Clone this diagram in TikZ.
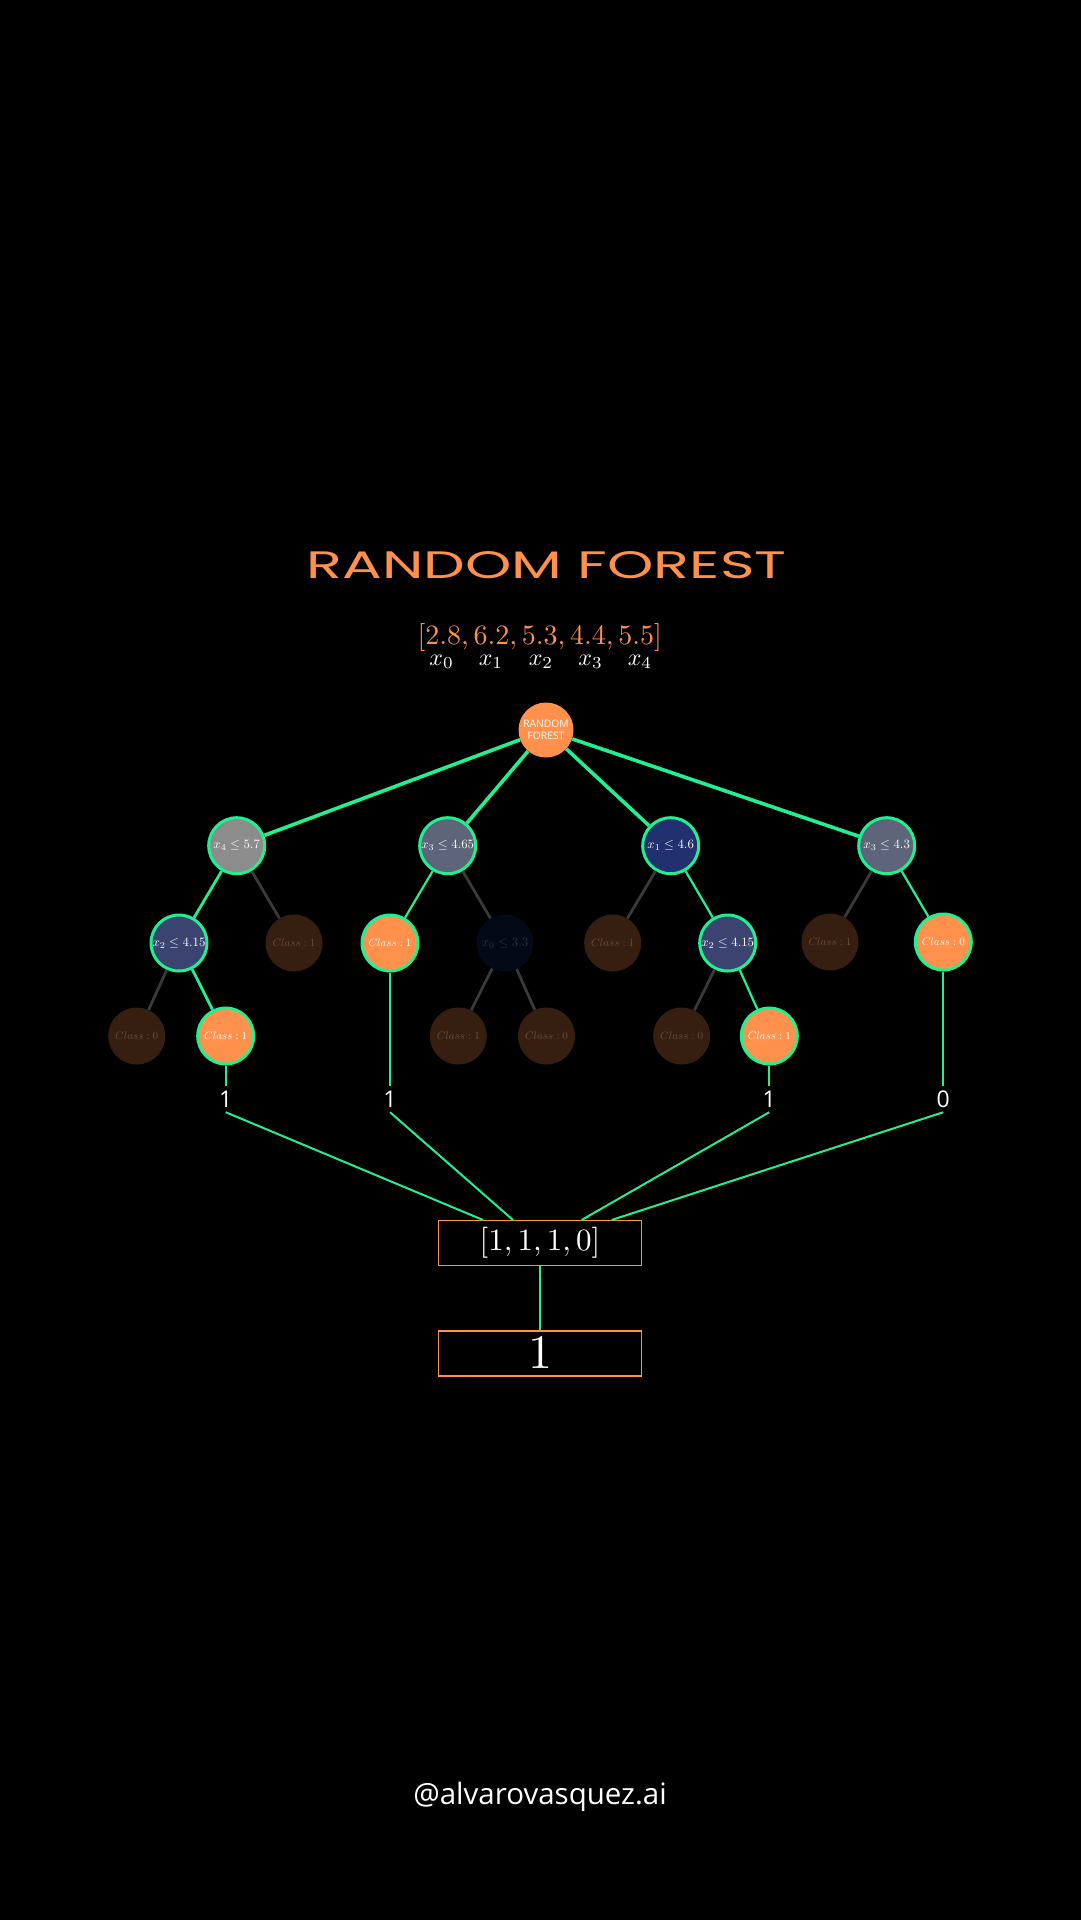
\documentclass[tikz,border=0pt]{standalone}
\usepackage{fontspec}
\usepackage{graphicx}
\usetikzlibrary{calc}
\newfontfamily\sansA{Open Sans}
\newfontfamily\titlefont{Poppins}
\newcommand{\mscale}[2]{\scalebox{#1}{$#2$}}
\definecolor{fgreen}{RGB}{32,240,145}
\definecolor{orng}{RGB}{255,145,77}
\definecolor{brownd}{RGB}{54,31,16}
\definecolor{dimtext}{RGB}{98,82,66}
\definecolor{greyedge}{RGB}{58,58,58}
\definecolor{greynode}{RGB}{140,140,140}
\definecolor{slatenode}{RGB}{94,100,121}
\definecolor{navynode}{RGB}{34,48,112}
\definecolor{bluenode}{RGB}{59,68,112}
\definecolor{darknode}{RGB}{4,9,24}
\definecolor{darktext}{RGB}{43,48,68}
\tikzset{
  cond/.style={circle, draw=fgreen, line width=3pt, minimum size=56pt, inner sep=0pt, text=white},
  dimleaf/.style={circle, fill=brownd, minimum size=57pt, inner sep=0pt, text=dimtext},
  onleaf/.style={circle, draw=fgreen, fill=orng, line width=3pt, minimum size=56pt, inner sep=0pt, text=white},
  rootnode/.style={circle, fill=orng, minimum size=55pt, inner sep=0pt, text=white, align=center, font=\sansA\fontsize{10.3}{11.5}\selectfont},
  topedge/.style={draw=fgreen, line width=3.6pt},
  gedge/.style={draw=fgreen, line width=2.8pt},
  thinedge/.style={draw=fgreen, line width=2.2pt},
  xedge/.style={draw=greyedge, line width=2.8pt},
  lab/.style={text=white, inner sep=0pt, minimum height=26pt, font=\sansA\fontsize{23}{25}\selectfont},
  votebox/.style={draw=orng, line width=1.5pt, minimum width=203pt, minimum height=45pt, inner sep=0pt, text=white},
}
\begin{document}
\begin{tikzpicture}[x=1pt,y=-1pt]
\useasboundingbox (0,0) rectangle (1080,1920);
\fill[black] (-10,-10) rectangle (1090,1930);

% title
\node[text=orng, inner sep=0pt] (title) at (546.5,565) {\resizebox{480pt}{27pt}{\titlefont RANDOM FOREST}};
\node[text=orng, inner sep=0pt, anchor=base] (vec) at (539.7,644) {\mscale{2.8}{[2.8, 6.2, 5.3, 4.4, 5.5]}};
\foreach \i/\xx in {0/441.7,1/491,2/541,3/590.7,4/640}{
  \node[text=white, inner sep=0pt, anchor=base] (sub\i) at (\xx,665) {\mscale{2.4}{x_{\i}}};
}

% nodes
\node[rootnode] (root) at (546,730) {RANDOM\\FOREST};

\node[cond, fill=greynode] (a) at (236.7,845.7) {\mscale{1.28}{x_4\leq 5.7}};
\node[cond, fill=slatenode] (b) at (447.7,845.7) {\mscale{1.28}{x_3\leq 4.65}};
\node[cond, fill=navynode] (c) at (670.7,845.7) {\mscale{1.28}{x_1\leq 4.6}};
\node[cond, fill=slatenode] (d) at (886.7,845.7) {\mscale{1.28}{x_3\leq 4.3}};

\node[cond, fill=bluenode] (a1) at (179,943) {\mscale{1.28}{x_2\leq 4.15}};
\node[dimleaf] (a2) at (294,943) {\mscale{1.1}{Class:1}};
\node[onleaf] (b1) at (390,943) {\mscale{1.1}{Class:1}};
\node[dimleaf, fill=darknode, text=darktext] (b2) at (505,943) {\mscale{1.28}{x_0\leq 3.3}};
\node[dimleaf] (c1) at (612.7,943) {\mscale{1.1}{Class:1}};
\node[cond, fill=bluenode] (c2) at (727.7,943) {\mscale{1.28}{x_2\leq 4.15}};
\node[dimleaf] (d1) at (830,942) {\mscale{1.1}{Class:1}};
\node[onleaf] (d2) at (943.3,942) {\mscale{1.1}{Class:0}};

\node[dimleaf] (a11) at (136.7,1036) {\mscale{1.1}{Class:0}};
\node[onleaf] (a12) at (225.7,1036) {\mscale{1.1}{Class:1}};
\node[dimleaf] (b21) at (458.3,1036) {\mscale{1.1}{Class:1}};
\node[dimleaf] (b22) at (546.5,1036) {\mscale{1.1}{Class:0}};
\node[dimleaf] (c21) at (681.7,1036) {\mscale{1.1}{Class:0}};
\node[onleaf] (c22) at (769.3,1036) {\mscale{1.1}{Class:1}};

% edges
\draw[topedge] (root) -- (a);
\draw[topedge] (root) -- (b);
\draw[topedge] (root) -- (c);
\draw[topedge] (root) -- (d);

\draw[gedge] (a) -- (a1);
\draw[xedge] (a) -- (a2);
\draw[thinedge] (b) -- (b1);
\draw[xedge] (b) -- (b2);
\draw[xedge] (c) -- (c1);
\draw[thinedge] (c) -- (c2);
\draw[xedge] (d) -- (d1);
\draw[thinedge] (d) -- (d2);

\draw[xedge] (a1) -- (a11);
\draw[gedge] (a1) -- (a12);
\draw[xedge] (b2) -- (b21);
\draw[xedge] (b2) -- (b22);
\draw[xedge] (c2) -- (c21);
\draw[thinedge] (c2) -- (c22);

% tree outputs
\node[lab] (l1) at (225.7,1099) {1};
\node[lab] (l2) at (390,1099) {1};
\node[lab] (l3) at (769.3,1099) {1};
\node[lab] (l4) at (943.3,1099) {0};

\draw[thinedge] (a12) -- (l1.north);
\draw[thinedge] (b1) -- (l2.north);
\draw[thinedge] (c22) -- (l3.north);
\draw[thinedge] (d2) -- (l4.north);

% vote boxes
\node[votebox] (vote) at (540,1243.2) {\mscale{3.1}{[1,1,1,0]}};
\node[votebox] (final) at (540,1353.5) {\mscale{4.8}{1}};

\coordinate (v1) at ($(vote.north)+(-57,0)$);
\coordinate (v2) at ($(vote.north)+(-27,0)$);
\coordinate (v3) at ($(vote.north)+(41.7,0)$);
\coordinate (v4) at ($(vote.north)+(71.7,0)$);

\draw[thinedge, line width=2pt] (l1.south) -- (v1);
\draw[thinedge, line width=2pt] (l2.south) -- (v2);
\draw[thinedge, line width=2pt] (l3.south) -- (v3);
\draw[thinedge, line width=2pt] (l4.south) -- (v4);
\draw[thinedge, line width=2pt] (vote) -- (final);

% watermark
\node[text=white, inner sep=0pt, font=\sansA\fontsize{29.5}{32}\selectfont] (mark) at (540,1797) {@alvarovasquez.ai};
\end{tikzpicture}
\end{document}
